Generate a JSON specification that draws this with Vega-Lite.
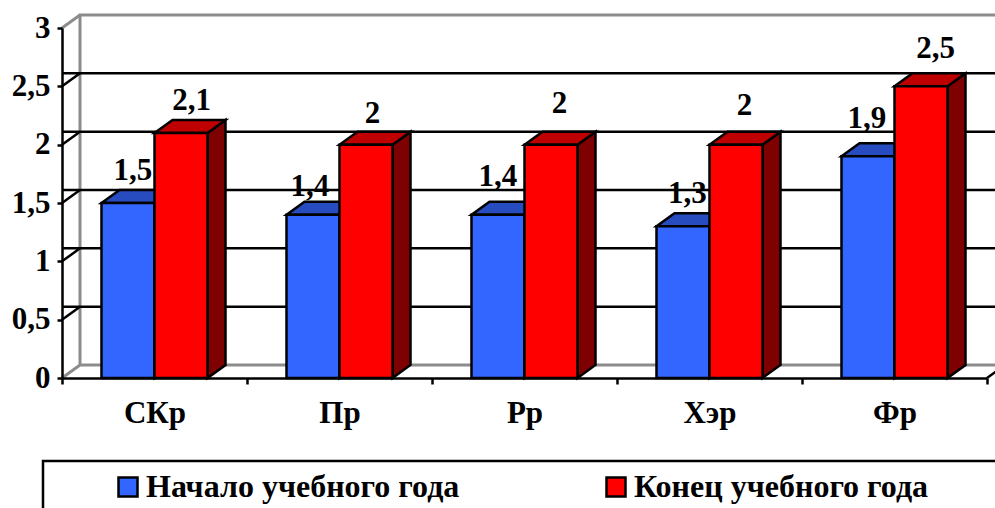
{
"$schema":"https://vega.github.io/schema/vega-lite/v6.json",
"width":925,"height":350,"autosize":"none",
"padding":{"left":62,"top":28,"right":8,"bottom":130},
"background":"white",
"config":{"view":{"stroke":null},"text":{"font":"Liberation Serif"},
"axis":{"labelFont":"Liberation Serif","labelFontWeight":"bold","labelColor":"black","domainColor":"black","tickColor":"black","domainWidth":2.5,"tickWidth":2.5,"grid":false,"title":null},
"legend":{"labelFont":"Liberation Serif"}},
"data":{"values":[
{"cat":"СКр","series":"Начало учебного года","value":1.5,"label":"1,5"},
{"cat":"СКр","series":"Конец учебного года","value":2.1,"label":"2,1"},
{"cat":"Пр","series":"Начало учебного года","value":1.4,"label":"1,4"},
{"cat":"Пр","series":"Конец учебного года","value":2,"label":"2"},
{"cat":"Рр","series":"Начало учебного года","value":1.4,"label":"1,4"},
{"cat":"Рр","series":"Конец учебного года","value":2,"label":"2"},
{"cat":"Хэр","series":"Начало учебного года","value":1.3,"label":"1,3"},
{"cat":"Хэр","series":"Конец учебного года","value":2,"label":"2"},
{"cat":"Фр","series":"Начало учебного года","value":1.9,"label":"1,9"},
{"cat":"Фр","series":"Конец учебного года","value":2.5,"label":"2,5"}
]},
"layer":[
{"data":{"values":[{"g":0}]},
 "mark":{"type":"point","filled":false,"size":4,"opacity":1,"stroke":"#8c8c8c","strokeWidth":3,"shape":"M0,0L18,-13L950,-13M18,-13V-363L950,-363M0,-350L18,-363"},
 "encoding":{"x":{"datum":"СКр","type":"nominal","bandPosition":0,"scale":{"type":"band","paddingInner":0,"paddingOuter":0,"domain":["СКр","Пр","Рр","Хэр","Фр"]}},
 "y":{"field":"g","type":"quantitative","scale":{"domain":[0,3],"nice":false}}}},
{"data":{"values":[{"g":0.5},{"g":1},{"g":1.5},{"g":2},{"g":2.5}]},
 "layer":[
 {"mark":{"type":"rule","stroke":"black","strokeWidth":2.5,"xOffset":18,"yOffset":-13},
  "encoding":{"y":{"field":"g","type":"quantitative"}}},
 {"mark":{"type":"point","filled":false,"size":4,"opacity":1,"stroke":"black","strokeWidth":2.5,"shape":"M0,0L18,-13"},
  "encoding":{"x":{"datum":"СКр","type":"nominal","bandPosition":0},"y":{"field":"g","type":"quantitative"}}}
 ]},
{"data":{"values":[{"g":0}]},
 "mark":{"type":"point","filled":false,"size":4,"opacity":1,"stroke":"black","strokeWidth":2.5,"shape":"M0,0L18,-13"},
 "encoding":{"x":{"datum":"Фр","type":"nominal","bandPosition":1},"y":{"field":"g","type":"quantitative"}}},
{"data":{"values":[{"g":0}]},
 "mark":{"type":"point","filled":false,"size":4,"opacity":1,"stroke":"black","strokeWidth":2.5,"shape":"M-19,150V83H960"},
 "encoding":{"x":{"datum":"СКр","type":"nominal","bandPosition":0},"y":{"field":"g","type":"quantitative"}}},
{"encoding":{
 "x":{"field":"cat","type":"nominal","sort":null,"scale":{"type":"band","paddingInner":0,"paddingOuter":0,"domain":["СКр","Пр","Рр","Хэр","Фр"]},
  "axis":{"title":null,"tickBand":"extent","labelAngle":0,"labelAlign":"center","labelFontSize":31,"tickSize":6,"labelPadding":29,"zindex":1}},
 "xOffset":{"field":"series","type":"nominal","sort":null,"scale":{"type":"band","domain":["Начало учебного года","Конец учебного года"],"paddingInner":0,"paddingOuter":0.745}},
 "y":{"field":"value","type":"quantitative","scale":{"domain":[0,3],"nice":false},
  "axis":{"title":null,"values":[0,0.5,1,1.5,2,2.5,3],"format":"~g","labelExpr":"replace(datum.label,'.',',')","labelFontSize":31,"tickSize":5,"labelPadding":7,"zindex":1}}},
 "layer":[
 {"transform":[{"filter":"datum.series==='Начало учебного года'"}],
  "mark":{"type":"point","filled":true,"size":4,"opacity":1,"fill":"#19337f","stroke":"black","strokeWidth":2.5},
  "encoding":{"shape":{"field":"value","type":"nominal","legend":null,"scale":{"domain":[1.3,1.4,1.5,1.9,2,2.1,2.5],"range":[
   "M26.5,0L44.5,-13V138.7L26.5,151.7Z","M26.5,0L44.5,-13V150.3L26.5,163.3Z","M26.5,0L44.5,-13V162L26.5,175Z","M26.5,0L44.5,-13V208.7L26.5,221.7Z","M26.5,0L44.5,-13V220.3L26.5,233.3Z","M26.5,0L44.5,-13V232L26.5,245Z","M26.5,0L44.5,-13V278.7L26.5,291.7Z"]}}}},
 {"transform":[{"filter":"datum.series==='Конец учебного года'"}],
  "mark":{"type":"point","filled":true,"size":4,"opacity":1,"fill":"#7f0000","stroke":"black","strokeWidth":2.5},
  "encoding":{"shape":{"field":"value","type":"nominal","legend":null}}},
 {"transform":[{"filter":"datum.series==='Начало учебного года'"}],
  "mark":{"type":"point","filled":true,"size":4,"opacity":1,"fill":"#264cbf","stroke":"black","strokeWidth":2.5,"shape":"M-26.5,0L-8.5,-13L44.5,-13L26.5,0Z"}},
 {"transform":[{"filter":"datum.series==='Конец учебного года'"}],
  "mark":{"type":"point","filled":true,"size":4,"opacity":1,"fill":"#bf0000","stroke":"black","strokeWidth":2.5,"shape":"M-26.5,0L-8.5,-13L44.5,-13L26.5,0Z"}},
 {"mark":{"type":"bar","stroke":"black","strokeWidth":2.5,"opacity":1},
  "encoding":{"color":{"field":"series","type":"nominal","sort":null,"scale":{"domain":["Начало учебного года","Конец учебного года"],"range":["#3366ff","#ff0000"]},
   "legend":{"title":null,"orient":"none","legendX":50,"legendY":443,"direction":"horizontal","columns":2,"columnPadding":140,"symbolType":"square","symbolSize":361,"symbolStrokeColor":"black","symbolStrokeWidth":2.5,"symbolOpacity":1,"labelFontSize":32,"labelFontWeight":"bold","labelColor":"black","labelOffset":2,"labelLimit":500,"padding":0}}}},
 {"transform":[{"filter":"datum.cat==='СКр'&&datum.value===1.5"}],"mark":{"type":"text","fontSize":31,"fontWeight":"bold","font":"Liberation Serif","fill":"black","baseline":"middle","dx":5,"dy":-32},"encoding":{"text":{"field":"label"}}},
 {"transform":[{"filter":"datum.cat==='СКр'&&datum.value===2.1"}],"mark":{"type":"text","fontSize":31,"fontWeight":"bold","font":"Liberation Serif","fill":"black","baseline":"middle","dx":10.5,"dy":-32},"encoding":{"text":{"field":"label"}}},
 {"transform":[{"filter":"datum.cat==='Пр'&&datum.value===1.4"}],"mark":{"type":"text","fontSize":31,"fontWeight":"bold","font":"Liberation Serif","fill":"black","baseline":"middle","dx":-3,"dy":-28},"encoding":{"text":{"field":"label"}}},
 {"transform":[{"filter":"datum.cat==='Пр'&&datum.value===2"}],"mark":{"type":"text","fontSize":31,"fontWeight":"bold","font":"Liberation Serif","fill":"black","baseline":"middle","dx":6.5,"dy":-31},"encoding":{"text":{"field":"label"}}},
 {"transform":[{"filter":"datum.cat==='Рр'&&datum.value===1.4"}],"mark":{"type":"text","fontSize":31,"fontWeight":"bold","font":"Liberation Serif","fill":"black","baseline":"middle","dx":0,"dy":-38},"encoding":{"text":{"field":"label"}}},
 {"transform":[{"filter":"datum.cat==='Рр'&&datum.value===2"}],"mark":{"type":"text","fontSize":31,"fontWeight":"bold","font":"Liberation Serif","fill":"black","baseline":"middle","dx":8.5,"dy":-41},"encoding":{"text":{"field":"label"}}},
 {"transform":[{"filter":"datum.cat==='Хэр'&&datum.value===1.3"}],"mark":{"type":"text","fontSize":31,"fontWeight":"bold","font":"Liberation Serif","fill":"black","baseline":"middle","dx":4.5,"dy":-32},"encoding":{"text":{"field":"label"}}},
 {"transform":[{"filter":"datum.cat==='Хэр'&&datum.value===2"}],"mark":{"type":"text","fontSize":31,"fontWeight":"bold","font":"Liberation Serif","fill":"black","baseline":"middle","dx":8.5,"dy":-39},"encoding":{"text":{"field":"label"}}},
 {"transform":[{"filter":"datum.cat==='Фр'&&datum.value===1.9"}],"mark":{"type":"text","fontSize":31,"fontWeight":"bold","font":"Liberation Serif","fill":"black","baseline":"middle","dx":-1,"dy":-37},"encoding":{"text":{"field":"label"}}},
 {"transform":[{"filter":"datum.cat==='Фр'&&datum.value===2.5"}],"mark":{"type":"text","fontSize":31,"fontWeight":"bold","font":"Liberation Serif","fill":"black","baseline":"middle","dx":14.5,"dy":-37},"encoding":{"text":{"field":"label"}}}
 ]}
]
}
